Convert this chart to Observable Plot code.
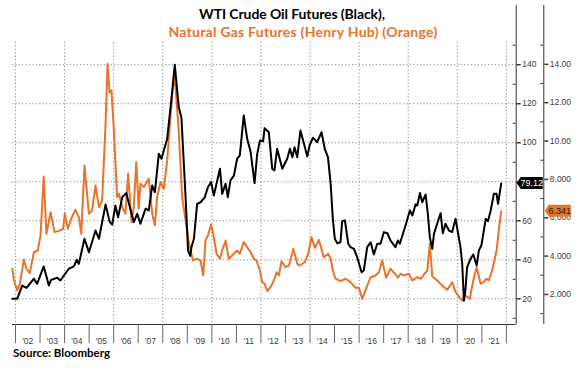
<!DOCTYPE html>
<html><head><meta charset="utf-8">
<script src="https://cdn.jsdelivr.net/npm/d3@7"></script>
<script src="https://cdn.jsdelivr.net/npm/@observablehq/plot@0.6"></script>
<style>
body{margin:0;background:#fff;}
#wrap{position:relative;width:587px;height:375px;overflow:hidden;}
.t{position:absolute;font-family:Lato,"Open Sans",sans-serif;font-weight:700;white-space:nowrap;transform:translateX(-50%);line-height:1;}
#src{position:absolute;left:13px;top:347px;font-family:Lato,sans-serif;font-weight:700;font-size:11.5px;color:#000;line-height:1;}
#chart{position:absolute;left:0;top:0;}
</style></head><body>
<div id="wrap">
<div id="chart"></div>
<div class="t" style="left:292px;top:7px;font-size:14px;letter-spacing:-0.1px;color:#000">WTI Crude Oil Futures (Black),</div>
<div class="t" style="left:303px;top:25px;font-size:14px;letter-spacing:0.25px;color:#e8732a">Natural Gas Futures (Henry Hub) (Orange)</div>
<div id="src">Source: Bloomberg</div>
</div>
<script>
const oilYears = [2001.87,2002.07,2002.27,2002.45,2002.75,2002.88,2003.15,2003.36,2003.45,2003.70,2003.83,2004.17,2004.38,2004.49,2004.58,2004.81,2004.99,2005.26,2005.40,2005.67,2005.84,2005.94,2006.07,2006.18,2006.35,2006.51,2006.82,2006.96,2007.09,2007.30,2007.43,2007.57,2007.68,2007.84,2007.95,2008.04,2008.18,2008.36,2008.49,2008.65,2008.76,2008.93,2009.03,2009.12,2009.17,2009.27,2009.40,2009.54,2009.71,2009.84,2009.97,2010.08,2010.19,2010.33,2010.42,2010.56,2010.65,2010.76,2010.90,2011.03,2011.14,2011.30,2011.44,2011.58,2011.74,2011.85,2011.96,2012.09,2012.15,2012.32,2012.46,2012.55,2012.66,2012.87,2013.07,2013.18,2013.28,2013.37,2013.48,2013.61,2013.71,2013.89,2013.98,2014.12,2014.29,2014.47,2014.60,2014.73,2014.84,2014.93,2015.01,2015.11,2015.24,2015.31,2015.42,2015.56,2015.65,2015.79,2015.92,2016.10,2016.19,2016.33,2016.47,2016.60,2016.74,2016.87,2017.01,2017.15,2017.28,2017.48,2017.58,2017.66,2017.89,2018.07,2018.17,2018.30,2018.37,2018.48,2018.57,2018.71,2018.80,2018.88,2018.98,2019.05,2019.18,2019.32,2019.41,2019.52,2019.66,2019.79,2019.93,2020.00,2020.13,2020.20,2020.27,2020.33,2020.40,2020.54,2020.65,2020.79,2020.88,2020.98,2021.16,2021.25,2021.36,2021.49,2021.60,2021.66,2021.79];
const oilValues = [20.0,20.0,26.8,25.6,30.3,27.7,36.6,26.8,29.7,30.8,29.4,35.4,36.6,40.0,37.9,50.8,43.9,55.0,50.8,68.4,59.3,58.1,67.8,61.8,72.1,74.2,59.3,63.6,58.5,66.2,65.3,78.1,74.7,94.4,91.8,96.0,102.0,123.4,140.0,118.3,113.0,72.0,44.8,42.0,46.5,50.8,68.7,69.5,72.0,77.2,79.8,73.0,79.0,86.7,73.8,79.0,72.1,80.7,83.2,91.8,93.5,114.0,102.0,95.2,79.3,94.4,101.2,100.8,107.5,105.4,86.7,85.8,96.9,86.7,91.8,96.9,92.6,97.7,92.6,106.3,101.5,93.0,98.6,102.6,100.3,105.4,96.9,92.6,79.0,61.0,50.8,48.5,49.0,59.8,60.2,48.2,46.5,45.6,41.3,33.6,34.5,46.5,49.0,42.7,48.2,48.2,54.2,53.6,49.9,46.5,49.9,48.2,57.6,65.3,62.7,68.4,67.8,74.2,69.5,73.5,63.6,51.6,45.6,53.3,58.5,63.9,53.6,58.5,55.0,54.2,61.0,55.9,46.5,38.0,19.0,24.3,36.2,40.5,42.7,37.1,44.8,47.3,61.0,59.8,65.3,73.8,73.8,68.7,79.12];

const gasYears = [2001.87,2001.94,2002.07,2002.18,2002.34,2002.45,2002.58,2002.75,2002.91,2003.02,2003.15,2003.26,2003.43,2003.59,2003.83,2003.94,2004.01,2004.13,2004.27,2004.44,2004.58,2004.68,2004.81,2004.99,2005.12,2005.26,2005.40,2005.53,2005.67,2005.75,2005.83,2005.91,2006.00,2006.14,2006.22,2006.35,2006.48,2006.59,2006.73,2006.82,2006.92,2007.02,2007.09,2007.23,2007.43,2007.57,2007.68,2007.77,2007.91,2008.04,2008.18,2008.32,2008.45,2008.52,2008.65,2008.79,2008.93,2009.06,2009.23,2009.40,2009.54,2009.65,2009.74,2009.84,2009.97,2010.08,2010.19,2010.33,2010.42,2010.56,2010.69,2010.90,2011.03,2011.14,2011.30,2011.44,2011.58,2011.71,2011.82,2011.96,2012.05,2012.15,2012.26,2012.39,2012.53,2012.64,2012.73,2012.84,2013.00,2013.14,2013.32,2013.48,2013.57,2013.79,2013.93,2014.06,2014.20,2014.36,2014.56,2014.74,2014.84,2014.93,2015.04,2015.24,2015.45,2015.65,2015.85,2015.99,2016.13,2016.26,2016.47,2016.67,2016.81,2016.94,2017.10,2017.28,2017.46,2017.58,2017.69,2017.82,2018.03,2018.17,2018.37,2018.53,2018.64,2018.78,2018.88,2018.98,2019.18,2019.39,2019.59,2019.79,2019.93,2020.07,2020.20,2020.30,2020.43,2020.51,2020.65,2020.79,2020.95,2021.08,2021.19,2021.28,2021.42,2021.60,2021.69,2021.79];
const gasValues = [3.34,2.73,2.21,2.56,3.81,3.34,3.11,4.20,4.29,5.08,8.15,5.16,6.29,5.25,5.34,5.42,6.24,5.42,5.95,6.42,6.03,5.16,8.73,6.21,6.38,7.68,6.55,6.90,10.9,14.03,12.55,12.64,10.73,7.07,7.25,6.55,6.21,8.29,5.77,6.55,8.90,6.47,7.77,7.60,8.03,6.21,5.60,7.07,7.86,7.51,8.99,11.34,13.33,12.81,10.55,7.07,5.86,4.73,3.77,3.86,3.77,2.99,4.81,5.08,5.65,4.99,4.12,3.86,4.29,4.81,3.86,4.12,4.29,4.12,4.73,4.47,4.20,3.86,3.77,3.25,2.64,2.56,2.17,2.38,2.73,3.16,2.99,3.73,3.42,3.51,4.38,3.60,3.51,3.68,4.15,4.99,4.43,4.85,3.94,4.12,3.86,3.25,2.82,2.69,2.82,2.64,2.35,2.35,1.77,2.24,2.90,2.99,3.16,3.77,2.87,3.34,3.08,2.87,3.08,2.99,3.08,2.73,2.90,2.82,3.04,3.25,4.64,2.94,2.73,2.47,2.24,2.64,2.12,1.89,1.68,1.95,1.86,1.77,2.73,3.42,2.56,2.64,2.82,2.73,3.25,4.29,5.34,6.341];

const yearLabels = ["'02","'03","'04","'05","'06","'07","'08","'09","'10","'11","'12","'13","'14","'15","'16","'17","'18","'19","'20","'21"];
const oilTicks = [20,40,60,80,100,120,140];
const oilTickLabels = ["20","40","60","","100","120","140"]; // "80" is hidden behind the 79.12 price tag in the reference
const oilMinorTicks = [10,30,50,70,90,110,130,150];
const gasTicks = [2,4,6,8,10,12,14];
const gasTickLabels = ["2.000","4.000","6.000","8.000","10.00","12.00","14.00"];
const gasMinorTicks = [1,3,5,7,9,11,13,15];
const lastOilLabel = "79.12";
const lastGasLabel = "6.341";

const orange = "#e8732a";
const W = 587, H = 375, mL = 12, mR = 71.3, mT = 42, mB = 51;
const plotW = W - mL - mR;
const gasDx = 27.6;
const xDomain = [2001.878, 2022.40];
const yDomain = [6.82, 151.4];
const gasToOil = g => 2.564 + 9.831 * g;

const oilData = oilYears.map((t, i) => ({t, v: oilValues[i]}));
const gasData = gasYears.map((t, i) => ({t, v: gasToOil(gasValues[i])}));
const yearStarts = d3.range(2002, 2023);
const labelPos = yearLabels.map((_, i) => 2002 + i + 0.5);
const oilLabelMap = new Map(oilTicks.map((v, i) => [v, oilTickLabels[i]]));
const gasLabelMap = new Map(gasTicks.map((g, i) => [gasToOil(g), gasTickLabels[i]]));
const grid = {stroke: "#8a8a8a", strokeOpacity: 1, strokeDasharray: "1.2,2.2", strokeWidth: 1};

const chart = Plot.plot({
  width: W, height: H,
  marginLeft: mL, marginRight: mR, marginTop: mT, marginBottom: mB,
  x: {type: "linear", domain: xDomain},
  y: {domain: yDomain},
  style: {fontFamily: "'Liberation Sans', Arial, sans-serif", fontSize: "8.5px", color: "#3a3a3a", background: "#fff"},
  marks: [
    Plot.gridY(oilTicks, grid),
    Plot.gridX(d3.range(2002, 2023, 2), grid),
    Plot.line(gasData, {x: "t", y: "v", stroke: orange, strokeWidth: 2}),
    Plot.line(oilData, {x: "t", y: "v", stroke: "#000", strokeWidth: 2}),
    Plot.ruleY([yDomain[0]], {stroke: "#333"}),
    Plot.ruleX([xDomain[1]], {stroke: "#333", insetTop: -37}),
    Plot.ruleX([xDomain[1]], {stroke: "#333", dx: gasDx, insetTop: -37}),
    Plot.axisX(yearStarts, {tickSize: 19, tickFormat: () => "", stroke: "#666", label: null}),
    Plot.axisX(labelPos, {tickSize: 0, tickPadding: 13, tickFormat: d => yearLabels[Math.floor(d) - 2002], label: null}),
    Plot.axisY(oilTicks, {anchor: "right", tickSize: 4, tickPadding: 2, strokeWidth: 1.5, tickFormat: d => oilLabelMap.get(d), label: null}),
    Plot.axisY(oilMinorTicks, {anchor: "left", dx: plotW, tickSize: 3, tickFormat: () => "", label: null}),
    Plot.axisY(gasTicks.map(gasToOil), {anchor: "right", dx: gasDx, tickSize: 4, tickPadding: 2, strokeWidth: 1.5, tickFormat: d => gasLabelMap.get(d), label: null}),
    Plot.axisY(gasMinorTicks.map(gasToOil), {anchor: "left", dx: plotW + gasDx, tickSize: 3, tickFormat: () => "", label: null})
  ]
});
document.getElementById("chart").appendChild(chart);

const sx = chart.scale("x"), sy = chart.scale("y");
const svg = d3.select(chart);
function tag(xLeft, yc, w, h, fill, textFill, text) {
  const g = svg.append("g");
  g.append("path")
    .attr("d", `M${xLeft},${yc} L${xLeft + 4},${yc - h / 2} H${xLeft + w} V${yc + h / 2} H${xLeft + 4} Z`)
    .attr("fill", fill);
  g.append("text").attr("x", xLeft + 4 + (w - 4) / 2).attr("y", yc).attr("dy", "0.35em")
    .attr("text-anchor", "middle").attr("fill", textFill)
    .attr("font-family", "'Liberation Sans', Arial, sans-serif").attr("font-size", "9px")
    .text(text);
}
const xr = sx.apply(xDomain[1]);
tag(xr + 1, sy.apply(oilValues[oilValues.length - 1]), 26, 12, "#000", "#fff", lastOilLabel);
tag(xr + gasDx + 1.5, sy.apply(gasToOil(gasValues[gasValues.length - 1])), 26, 12, orange, "#222", lastGasLabel);
</script>
</body></html>
